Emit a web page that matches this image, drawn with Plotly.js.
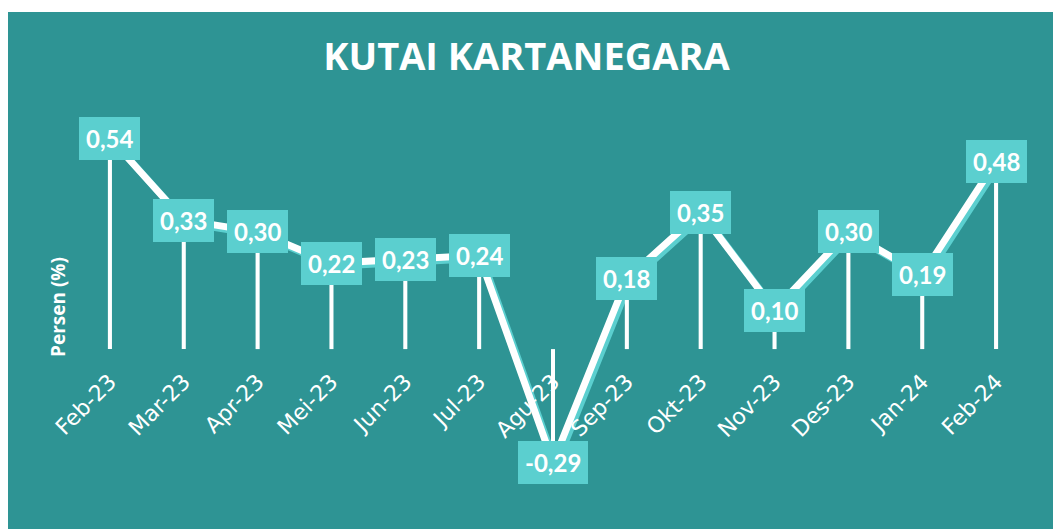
<!DOCTYPE html>
<html>
<head>
<meta charset="utf-8">
<script src="https://cdn.plot.ly/plotly-3.0.1.min.js"></script>
<style>html,body{margin:0;padding:0;background:#fff;}#chart{width:1053px;height:529px;}</style>
</head>
<body>
<div id="chart"></div>
<script>
const months = ["Feb-23","Mar-23","Apr-23","Mei-23","Jun-23","Jul-23","Agu-23","Sep-23","Okt-23","Nov-23","Des-23","Jan-24","Feb-24"];
const values = [0.54, 0.33, 0.30, 0.22, 0.23, 0.24, -0.29, 0.18, 0.35, 0.10, 0.30, 0.19, 0.48];
const labels = ["0,54","0,33","0,30","0,22","0,23","0,24","-0,29","0,18","0,35","0,10","0,30","0,19","0,48"];
const chartTitle = "KUTAI KARTANEGARA";
const yTitle = "Persen (%)";

const teal = "#2E9494";
const cyan = "#5BCFCF";

const yr = [-0.45, 0.65];
const xr = [-0.5, 12.5];
const plotW = 960, plotH = 430;
const dx = 3 * (xr[1]-xr[0]) / plotW;   // 3px shift for shadow
const dy = 3 * (yr[1]-yr[0]) / plotH;

const traces = [
  { // shadow line (on shifted axes)
    type: "scatter", mode: "lines", x: months, y: values,
    xaxis: "x", yaxis: "y",
    line: {color: cyan, width: 7}, hoverinfo: "skip"
  },
  { // drop lines
    type: "bar", x: months, y: values, base: 0,
    xaxis: "x2", yaxis: "y2",
    width: 0.055, marker: {color: "#ffffff", line: {width: 0}}, hoverinfo: "skip"
  },
  { // main line
    type: "scatter", mode: "lines", x: months, y: values,
    xaxis: "x2", yaxis: "y2",
    line: {color: "#ffffff", width: 7}
  }
];

const annotations = months.map((m, i) => ({
  x: m, y: values[i], xref: "x2", yref: "y2",
  text: "<b>" + labels[i] + "</b>", showarrow: false,
  xanchor: "center", yanchor: "middle",
  bgcolor: cyan, borderpad: 7, borderwidth: 0,
  font: {family: "Lato, 'Open Sans', sans-serif", size: 24, color: "#ffffff"}
}));
annotations.push({
  xref: "paper", yref: "paper", x: (58-73)/plotW, y: (524-306)/plotH,
  text: "<b>" + yTitle + "</b>", showarrow: false, textangle: -90,
  xanchor: "center", yanchor: "middle",
  font: {family: "'Open Sans', sans-serif", size: 19, color: "#ffffff"}
});

const zeroPos = (0 - yr[0]) / (yr[1] - yr[0]);

const layout = {
  width: 1053, height: 529,
  margin: {l: 73, r: 20, t: 95, b: 4},
  paper_bgcolor: "#ffffff", plot_bgcolor: "rgba(0,0,0,0)",
  showlegend: false, barmode: "overlay",
  title: {
    text: "<b>" + chartTitle + "</b>",
    x: 0.5, xanchor: "center", y: 1 - 57/529, yanchor: "middle",
    font: {family: "'Open Sans', sans-serif", size: 38, color: "#ffffff"}
  },
  shapes: [{
    type: "rect", xref: "paper", yref: "paper", layer: "below",
    x0: (8-73)/plotW, x1: (1053-73)/plotW + 0.01,
    y0: -0.02, y1: (524-11)/plotH,
    fillcolor: teal, line: {width: 0}
  }],
  xaxis: {
    type: "category", range: [xr[0]-dx, xr[1]-dx],
    showgrid: false, zeroline: false, showline: false, showticklabels: false, ticks: ""
  },
  yaxis: {
    range: [yr[0]+dy, yr[1]+dy],
    showgrid: false, zeroline: false, showline: false, showticklabels: false, ticks: ""
  },
  xaxis2: {
    type: "category", range: xr, overlaying: "x",
    anchor: "free", position: zeroPos, side: "bottom",
    showgrid: false, zeroline: false, showline: false,
    ticks: "outside", ticklen: 10, tickcolor: "rgba(0,0,0,0)",
    tickangle: -45,
    tickfont: {family: "'DejaVu Sans', sans-serif", size: 22, color: "#ffffff"}
  },
  yaxis2: {
    range: yr, overlaying: "y",
    showgrid: false, zeroline: false, showline: false, showticklabels: false, ticks: ""
  },
  annotations: annotations
};

Plotly.newPlot("chart", traces, layout, {displayModeBar: false, staticPlot: true});
</script>
</body>
</html>
